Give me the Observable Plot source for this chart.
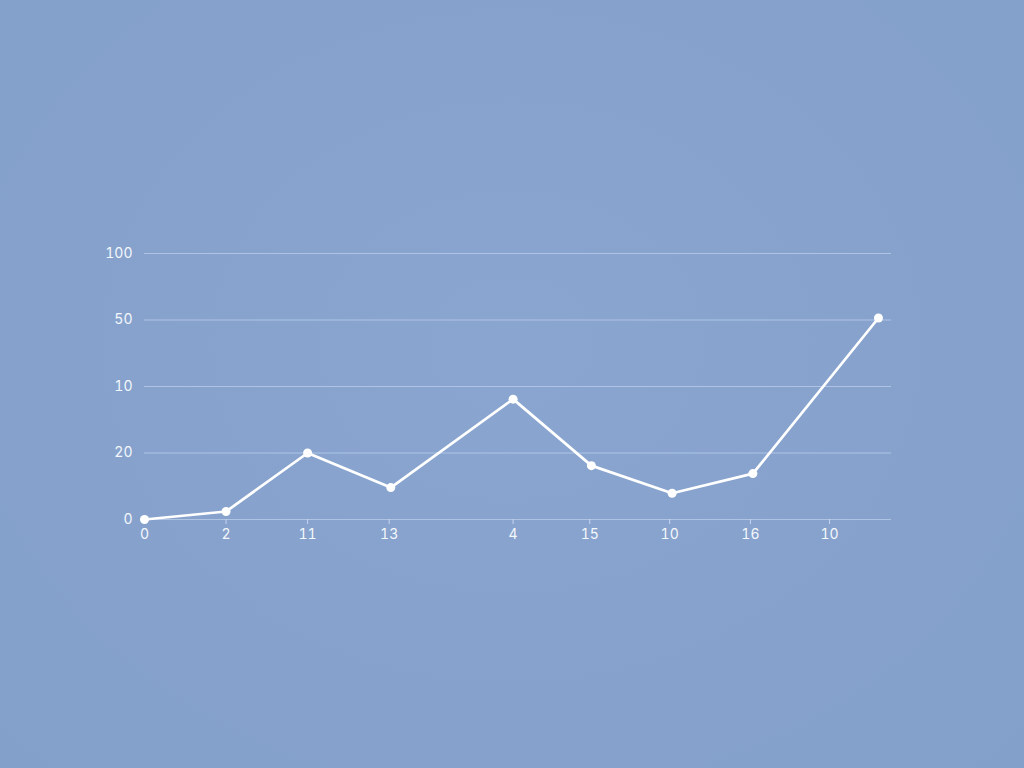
<!DOCTYPE html>
<html><head><meta charset="utf-8">
<script src="https://cdn.jsdelivr.net/npm/d3@7"></script>
<script src="https://cdn.jsdelivr.net/npm/@observablehq/plot@0.6"></script>
<style>
html,body{margin:0;padding:0;background:#86a3cc;}
#chart{width:1024px;height:768px;background:radial-gradient(ellipse at 50% 45%, #8aa6d0 0%, #86a2cc 60%, #82a0ca 100%);}
svg{display:block;}
</style></head>
<body><div id="chart"></div>
<script>
// point positions along x (in label-slot units) and values
const pointX = [0, 1, 2, 3.02, 4.52, 5.48, 6.47, 7.46, 9.0];
const values = [0, 2.4, 20, 9.6, 36.2, 16.2, 7.9, 13.8, 60.6];
// x tick positions and their labels
const xTickPos = [0, 1, 2, 3, 4.52, 5.46, 6.44, 7.43, 8.40];
const xLabels = ["0", "2", "11", "13", "4", "15", "10", "16", "10"];
// y tick positions and their labels
const yTickPos = [0, 20, 40, 60, 80];
const yLabels = ["0", "20", "10", "50", "100"];

const data = pointX.map((x, i) => ({x, y: values[i]}));
const textColor = "#f4f7fc";
const gridColor = "#b4c7e6";

const plot = Plot.plot({
  width: 1024,
  height: 768,
  marginLeft: 144,
  marginRight: 133,
  marginTop: 253,
  marginBottom: 249,
  style: {background: "transparent", fontFamily: "Inter, 'Open Sans', sans-serif", fontSize: "14px", color: textColor},
  x: {domain: [0, 9.16]},
  y: {domain: [0, 80]},
  marks: [
    Plot.ruleY(yTickPos, {stroke: gridColor, strokeWidth: 1.2, strokeOpacity: 0.9}),
    Plot.axisY({ticks: yTickPos, tickFormat: (d) => yLabels[yTickPos.indexOf(d)], tickSize: 0, tickPadding: 12, fill: textColor, fontSize: 14, label: null}),
    Plot.axisX({ticks: xTickPos, tickFormat: (d) => xLabels[xTickPos.indexOf(d)], tickSize: 5, tickPadding: 5, stroke: "#c8d6ee", fill: textColor, fontSize: 14, label: null}),
    Plot.line(data, {x: "x", y: "y", stroke: "#ffffff", strokeWidth: 2.7, strokeLinejoin: "round"}),
    Plot.dot(data, {x: "x", y: "y", r: 4.5, fill: "#ffffff", stroke: "none"})
  ]
});
document.getElementById("chart").appendChild(plot);
</script>
</body></html>
